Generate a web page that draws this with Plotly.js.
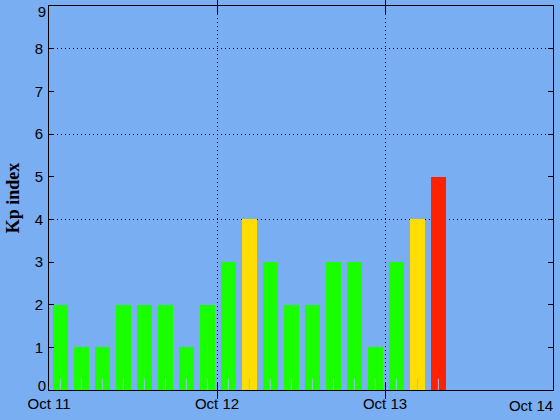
<!DOCTYPE html>
<html>
<head>
<meta charset="utf-8">
<script src="https://cdn.plot.ly/plotly-3.0.1.min.js"></script>
<style>html,body{margin:0;padding:0;background:#7aaef3;}#chart{width:560px;height:420px;}</style>
</head>
<body>
<div id="chart"></div>
<script>
// 3-hour Kp intervals (start times)
const binStarts = [
  "2023-10-11 00:00","2023-10-11 03:00","2023-10-11 06:00","2023-10-11 09:00",
  "2023-10-11 12:00","2023-10-11 15:00","2023-10-11 18:00","2023-10-11 21:00",
  "2023-10-12 00:00","2023-10-12 03:00","2023-10-12 06:00","2023-10-12 09:00",
  "2023-10-12 12:00","2023-10-12 15:00","2023-10-12 18:00","2023-10-12 21:00",
  "2023-10-13 00:00","2023-10-13 03:00","2023-10-13 06:00"
];
const kpValues = [2,1,1,2,2,2,1,2,3,4,3,2,2,3,3,1,3,4,5];
const tickDates = ["2023-10-11","2023-10-12","2023-10-13"];
const tickLabels = ["Oct 11","Oct 12","Oct 13"];
const endDate = "2023-10-14";
const endLabel = "Oct 14";
const yTicks = [1,2,3,4,5,6,7,8];
const yTop = 9;
const yBottom = 0;
const yGridVals = [4,6,8];

const H = 3600*1000;
function parse(s){ const [d,t]=s.split(" "); const [Y,M,D]=d.split("-").map(Number); const [h,m]=t.split(":").map(Number); return Date.UTC(Y,M-1,D,h,m); }
function fmt(ms){ const d=new Date(ms); const p=n=>String(n).padStart(2,"0");
  return d.getUTCFullYear()+"-"+p(d.getUTCMonth()+1)+"-"+p(d.getUTCDate())+" "+p(d.getUTCHours())+":"+p(d.getUTCMinutes())+":"+p(d.getUTCSeconds()); }
const centers = binStarts.map(s => fmt(parse(s) + 1.625*H));
const colors = kpValues.map(v => v >= 5 ? "#ff2200" : (v >= 4 ? "#ffdd00" : "#19ff00"));

const bg = "#7aaef3";
const xr = [tickDates[0], endDate];
const yr = [yBottom, yTop];
const dummy = (xa, ya) => ({type:"scatter", mode:"markers", x:[centers[0]], y:[kpValues[0]], xaxis:xa, yaxis:ya, marker:{opacity:0}, hoverinfo:"skip", showlegend:false});

const traces = [
  {type:"bar", x:centers, y:kpValues, width:2.25*H, marker:{color:colors, line:{width:0}}, hoverinfo:"skip", showlegend:false},
  {type:"scatter", mode:"markers", x:centers, y:kpValues.map(()=>yBottom), marker:{symbol:"line-ns", size:16, line:{width:1, color:"#9cc0ec"}}, hoverinfo:"skip", showlegend:false, cliponaxis:true},
  dummy("x2","y2"), dummy("x","y3"), dummy("x","y4")
];

const tf = {size:15};
const clear = "rgba(0,0,0,0)";
const layout = {
  width:560, height:420,
  margin:{l:49, r:7, t:6, b:30},
  paper_bgcolor:bg, plot_bgcolor:bg,
  bargap:0,
  font:{family:"Liberation Sans, Arial, sans-serif", size:15, color:"#000"},
  xaxis:{
    type:"date", range:xr,
    tickmode:"array", tickvals:tickDates, ticktext:tickLabels,
    ticks:"inside", ticklen:8, tickwidth:1, tickcolor:"#000",
    showline:true, linecolor:"#000", linewidth:1, mirror:"allticks",
    showgrid:true, gridcolor:"#000", gridwidth:1, griddash:"1px,3px",
    zeroline:false, tickfont:tf, ticklabeloverflow:"allow", fixedrange:true
  },
  xaxis2:{
    type:"date", range:xr, overlaying:"x", anchor:"y", side:"bottom",
    tickmode:"array", tickvals:[endDate], ticktext:[endLabel],
    ticks:"inside", ticklen:8, tickcolor:clear, showline:false, showgrid:false, zeroline:false,
    tickfont:tf, ticklabelshift:-22, ticklabelstandoff:5, ticklabeloverflow:"allow", fixedrange:true
  },
  yaxis:{
    range:yr, tickmode:"array", tickvals:yTicks,
    ticks:"inside", ticklen:5, tickwidth:1, tickcolor:"#000",
    showline:true, linecolor:"#000", linewidth:1, mirror:"allticks",
    showgrid:false, zeroline:false, tickfont:tf, ticklabeloverflow:"allow", ticklabelstandoff:2,
    title:{text:"Kp index", font:{family:"Liberation Serif, Times New Roman, serif", size:18, color:"#000", weight:"bold"}, standoff:10},
    fixedrange:true
  },
  yaxis2:{
    overlaying:"y", anchor:"x", range:yr, tickmode:"array", tickvals:yGridVals,
    showticklabels:false, ticks:"", showline:false,
    showgrid:true, gridcolor:"#000", gridwidth:1, griddash:"1px,3px",
    zeroline:false, fixedrange:true
  },
  yaxis3:{
    overlaying:"y", anchor:"x", side:"left", range:yr, tickmode:"array", tickvals:[yTop],
    ticks:"inside", ticklen:5, tickcolor:clear, showline:false, showgrid:false, zeroline:false,
    tickfont:tf, ticklabelshift:6, ticklabelstandoff:2, ticklabeloverflow:"allow", fixedrange:true
  },
  yaxis4:{
    overlaying:"y", anchor:"x", side:"left", range:yr, tickmode:"array", tickvals:[yBottom],
    ticks:"inside", ticklen:5, tickcolor:clear, showline:false, showgrid:false, zeroline:false,
    tickfont:tf, ticklabelshift:-4, ticklabelstandoff:2, ticklabeloverflow:"allow", fixedrange:true
  }
};

Plotly.newPlot("chart", traces, layout, {displayModeBar:false, staticPlot:true});
</script>
</body>
</html>
